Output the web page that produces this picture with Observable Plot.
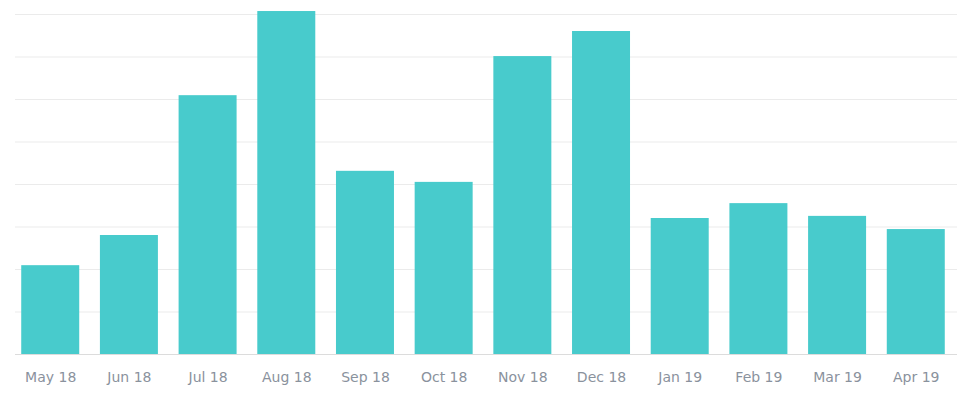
<!DOCTYPE html>
<html>
<head>
<meta charset="utf-8">
<script src="https://cdn.jsdelivr.net/npm/d3@7"></script>
<script src="https://cdn.jsdelivr.net/npm/@observablehq/plot@0.6"></script>
<style>
  html, body { margin: 0; padding: 0; background: #fff; }
  #chart svg { display: block; }
</style>
</head>
<body>
<div id="chart"></div>
<script>
const months = ["May 18", "Jun 18", "Jul 18", "Aug 18", "Sep 18", "Oct 18", "Nov 18", "Dec 18", "Jan 19", "Feb 19", "Mar 19", "Apr 19"];
const values = [2090, 2800, 6090, 8070, 4310, 4050, 7010, 7600, 3200, 3550, 3250, 2940];
const gridTicks = [1000, 2000, 3000, 4000, 5000, 6000, 7000, 8000];

const data = months.map((m, i) => ({month: m, value: values[i]}));

const chart = Plot.plot({
  width: 957,
  height: 397,
  marginTop: 14,
  marginBottom: 43,
  marginLeft: 11,
  marginRight: 2,
  style: {fontFamily: "'DejaVu Sans', Verdana, sans-serif", fontSize: "14px", color: "#8a929d", background: "#fff"},
  x: {domain: months, round: false, paddingInner: 0.263, paddingOuter: 0.13, label: null, tickSize: 0, tickPadding: 18},
  y: {domain: [0, 8000], axis: null},
  marks: [
    Plot.ruleY(gridTicks, {stroke: "#ebebeb", strokeWidth: 1, insetLeft: 4, insetRight: -2}),
    Plot.barY(data, {x: "month", y: "value", fill: "#48cbcc"}),
    Plot.ruleY([0], {stroke: "#dcdcdc", strokeWidth: 1, insetLeft: 4, insetRight: -2})
  ]
});
document.getElementById("chart").appendChild(chart);
</script>
</body>
</html>
